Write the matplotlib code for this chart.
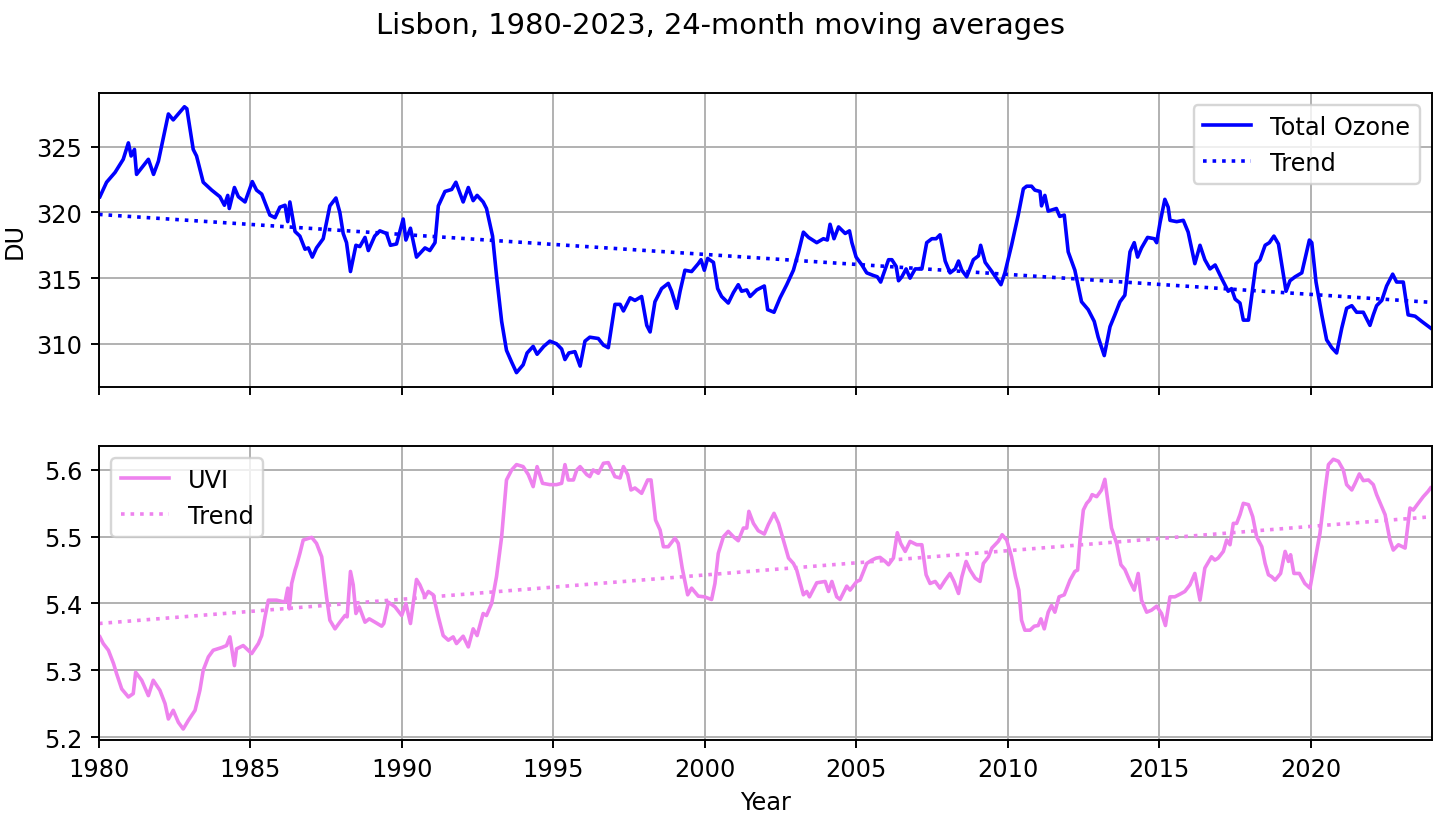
import matplotlib
matplotlib.use("Agg")
import matplotlib.pyplot as plt

# 24-month moving averages (decimal years)
oz_year = [1980.03, 1980.25, 1980.53, 1980.8, 1980.97, 1981.06, 1981.17, 1981.24, 1981.63, 1981.8,
           1981.96, 1982.18, 1982.29, 1982.45, 1982.82, 1982.9, 1983.11, 1983.22, 1983.44, 1983.72,
           1983.99, 1984.14, 1984.25, 1984.3, 1984.47, 1984.6, 1984.82, 1985.06, 1985.2, 1985.37,
           1985.64, 1985.81, 1985.97, 1986.14, 1986.23, 1986.3, 1986.47, 1986.63, 1986.8, 1986.91,
           1987.04, 1987.18, 1987.4, 1987.62, 1987.82, 1987.95, 1988.06, 1988.17, 1988.3, 1988.48,
           1988.61, 1988.78, 1988.89, 1989.1, 1989.27, 1989.49, 1989.62, 1989.82, 1990.04, 1990.13,
           1990.28, 1990.48, 1990.76, 1990.92, 1991.09, 1991.2, 1991.42, 1991.64, 1991.78, 1992.02,
           1992.19, 1992.35, 1992.48, 1992.68, 1992.79, 1992.99, 1993.12, 1993.29, 1993.45, 1993.62,
           1993.78, 1994.0, 1994.13, 1994.33, 1994.46, 1994.68, 1994.88, 1995.1, 1995.27, 1995.38,
           1995.51, 1995.71, 1995.88, 1996.04, 1996.2, 1996.48, 1996.65, 1996.81, 1997.03, 1997.2,
           1997.31, 1997.53, 1997.69, 1997.91, 1998.08, 1998.19, 1998.35, 1998.57, 1998.79, 1998.9,
           1999.07, 1999.18, 1999.34, 1999.56, 1999.78, 1999.87, 1999.98, 2000.09, 2000.28, 2000.42,
           2000.55, 2000.77, 2000.94, 2001.1, 2001.21, 2001.38, 2001.49, 2001.71, 2001.96, 2002.07,
           2002.28, 2002.48, 2002.7, 2002.92, 2003.09, 2003.25, 2003.42, 2003.69, 2003.91, 2004.04,
           2004.13, 2004.26, 2004.41, 2004.63, 2004.77, 2004.85, 2004.99, 2005.18, 2005.34, 2005.56,
           2005.69, 2005.8, 2006.06, 2006.17, 2006.31, 2006.39, 2006.5, 2006.64, 2006.77, 2006.94,
           2007.16, 2007.32, 2007.49, 2007.63, 2007.76, 2007.93, 2008.09, 2008.26, 2008.37, 2008.48,
           2008.64, 2008.86, 2009.03, 2009.1, 2009.25, 2009.47, 2009.62, 2009.77, 2009.9, 2010.12,
           2010.34, 2010.51, 2010.62, 2010.78, 2010.89, 2011.06, 2011.11, 2011.22, 2011.33, 2011.6,
           2011.71, 2011.86, 2011.99, 2012.21, 2012.43, 2012.65, 2012.85, 2012.98, 2013.18, 2013.37,
           2013.53, 2013.7, 2013.86, 2014.03, 2014.17, 2014.28, 2014.41, 2014.61, 2014.83, 2014.91,
           2015.02, 2015.18, 2015.29, 2015.35, 2015.57, 2015.79, 2015.95, 2016.17, 2016.34, 2016.5,
           2016.67, 2016.84, 2017.05, 2017.27, 2017.38, 2017.5, 2017.66, 2017.77, 2017.94, 2018.08,
           2018.19, 2018.32, 2018.49, 2018.63, 2018.78, 2018.93, 2019.07, 2019.18, 2019.31, 2019.48,
           2019.7, 2019.95, 2020.03, 2020.17, 2020.36, 2020.52, 2020.69, 2020.85, 2021.02, 2021.18,
           2021.35, 2021.51, 2021.73, 2021.95, 2022.06, 2022.17, 2022.34, 2022.5, 2022.7, 2022.83,
           2023.05, 2023.21, 2023.44, 2023.66, 2023.95]
oz_du = [321.2, 322.3, 323.05, 324.05, 325.3, 324.3, 324.8, 322.9, 324.05, 322.9,
         323.9, 326.3, 327.5, 327.05, 328.05, 327.9, 324.8, 324.3, 322.3, 321.7,
         321.2, 320.55, 321.3, 320.3, 321.9, 321.2, 320.8, 322.35, 321.7, 321.4,
         319.8, 319.6, 320.4, 320.55, 319.3, 320.8, 318.55, 318.2, 317.2, 317.3,
         316.6, 317.3, 318.0, 320.5, 321.1, 320.0, 318.4, 317.7, 315.5, 317.5,
         317.4, 318.1, 317.1, 318.2, 318.6, 318.4, 317.5, 317.6, 319.5, 317.9,
         318.8, 316.6, 317.3, 317.1, 317.7, 320.5, 321.6, 321.75, 322.3, 320.8,
         321.9, 320.9, 321.3, 320.8, 320.3, 318.2, 315.2, 311.7, 309.5, 308.6,
         307.8, 308.4, 309.3, 309.8, 309.2, 309.8, 310.2, 310.0, 309.6, 308.8,
         309.3, 309.4, 308.3, 310.2, 310.5, 310.4, 309.9, 309.7, 313.0, 313.0,
         312.5, 313.5, 313.3, 313.6, 311.4, 310.9, 313.2, 314.2, 314.6, 314.0,
         312.7, 314.0, 315.6, 315.5, 316.1, 316.4, 315.6, 316.5, 316.2, 314.2,
         313.6, 313.1, 313.9, 314.5, 314.0, 314.1, 313.6, 314.1, 314.4, 312.6,
         312.4, 313.5, 314.5, 315.6, 317.0, 318.5, 318.1, 317.7, 318.0, 317.9,
         319.1, 318.0, 318.9, 318.4, 318.6, 317.7, 316.6, 316.0, 315.4, 315.2,
         315.1, 314.7, 316.4, 316.4, 315.9, 314.8, 315.1, 315.7, 315.0, 315.7,
         315.7, 317.7, 318.0, 318.0, 318.3, 316.3, 315.4, 315.7, 316.3, 315.6,
         315.1, 316.4, 316.7, 317.5, 316.2, 315.5, 315.0, 314.5, 315.4, 317.5,
         319.8, 321.8, 322.0, 322.0, 321.7, 321.6, 320.5, 321.3, 320.1, 320.3,
         319.7, 319.8, 317.0, 315.6, 313.2, 312.6, 311.7, 310.5, 309.1, 311.3,
         312.2, 313.2, 313.7, 317.0, 317.7, 316.6, 317.3, 318.1, 318.0, 317.7,
         319.2, 321.0, 320.4, 319.4, 319.3, 319.4, 318.5, 316.1, 317.5, 316.4,
         315.7, 316.0, 315.0, 314.0, 314.2, 313.4, 313.1, 311.8, 311.8, 314.2,
         316.1, 316.4, 317.5, 317.7, 318.2, 317.6, 315.6, 314.0, 314.8, 315.1,
         315.4, 317.9, 317.7, 314.7, 312.2, 310.3, 309.7, 309.3, 311.2, 312.7,
         312.9, 312.4, 312.4, 311.4, 312.2, 312.9, 313.3, 314.4, 315.3, 314.7,
         314.7, 312.2, 312.1, 311.7, 311.2]

uvi_year = [1980.03, 1980.14, 1980.31, 1980.48, 1980.58, 1980.75, 1980.97, 1981.13, 1981.21, 1981.41,
            1981.63, 1981.79, 1982.01, 1982.18, 1982.29, 1982.45, 1982.62, 1982.78, 1982.95, 1983.17,
            1983.33, 1983.44, 1983.61, 1983.77, 1984.05, 1984.21, 1984.32, 1984.47, 1984.54, 1984.76,
            1985.04, 1985.26, 1985.37, 1985.48, 1985.59, 1985.86, 1986.14, 1986.23, 1986.28, 1986.36,
            1986.47, 1986.52, 1986.63, 1986.74, 1987.02, 1987.18, 1987.35, 1987.51, 1987.62, 1987.79,
            1987.95, 1988.12, 1988.19, 1988.3, 1988.39, 1988.48, 1988.59, 1988.78, 1988.92, 1989.11,
            1989.33, 1989.4, 1989.55, 1989.77, 1989.99, 1990.13, 1990.28, 1990.48, 1990.59, 1990.76,
            1990.87, 1991.03, 1991.2, 1991.36, 1991.53, 1991.69, 1991.8, 1992.02, 1992.19, 1992.35,
            1992.48, 1992.68, 1992.79, 1992.96, 1993.12, 1993.29, 1993.45, 1993.62, 1993.78, 1994.0,
            1994.17, 1994.33, 1994.46, 1994.64, 1994.88, 1995.1, 1995.27, 1995.38, 1995.49, 1995.66,
            1995.77, 1995.88, 1996.1, 1996.2, 1996.31, 1996.48, 1996.65, 1996.81, 1997.03, 1997.2,
            1997.31, 1997.45, 1997.56, 1997.69, 1997.91, 1998.11, 1998.22, 1998.37, 1998.52, 1998.63,
            1998.79, 1999.01, 1999.12, 1999.25, 1999.43, 1999.56, 1999.78, 1999.98, 2000.22, 2000.33,
            2000.44, 2000.61, 2000.77, 2000.94, 2001.1, 2001.27, 2001.38, 2001.45, 2001.6, 2001.76,
            2001.96, 2002.09, 2002.28, 2002.43, 2002.59, 2002.76, 2002.92, 2003.03, 2003.25, 2003.36,
            2003.45, 2003.69, 2003.97, 2004.08, 2004.19, 2004.35, 2004.46, 2004.68, 2004.79, 2005.01,
            2005.12, 2005.34, 2005.51, 2005.65, 2005.78, 2005.95, 2006.06, 2006.22, 2006.35, 2006.46,
            2006.61, 2006.77, 2006.99, 2007.16, 2007.3, 2007.43, 2007.6, 2007.76, 2007.93, 2008.09,
            2008.22, 2008.37, 2008.48, 2008.62, 2008.75, 2008.92, 2009.08, 2009.19, 2009.36, 2009.47,
            2009.68, 2009.81, 2009.96, 2010.12, 2010.25, 2010.36, 2010.45, 2010.56, 2010.73, 2010.87,
            2011.0, 2011.09, 2011.2, 2011.33, 2011.44, 2011.55, 2011.69, 2011.86, 2012.05, 2012.21,
            2012.3, 2012.38, 2012.49, 2012.6, 2012.7, 2012.78, 2012.93, 2013.09, 2013.2, 2013.31,
            2013.42, 2013.59, 2013.73, 2013.86, 2014.03, 2014.17, 2014.3, 2014.41, 2014.58, 2014.74,
            2014.91, 2015.07, 2015.2, 2015.35, 2015.51, 2015.68, 2015.84, 2016.01, 2016.17, 2016.34,
            2016.5, 2016.72, 2016.83, 2016.94, 2017.11, 2017.22, 2017.33, 2017.44, 2017.55, 2017.66,
            2017.77, 2017.94, 2018.08, 2018.21, 2018.38, 2018.49, 2018.6, 2018.71, 2018.82, 2019.0,
            2019.15, 2019.26, 2019.33, 2019.44, 2019.62, 2019.8, 2019.97, 2020.14, 2020.3, 2020.47,
            2020.58, 2020.74, 2020.91, 2021.07, 2021.18, 2021.35, 2021.46, 2021.6, 2021.73, 2021.9,
            2022.06, 2022.17, 2022.34, 2022.45, 2022.61, 2022.72, 2022.89, 2023.11, 2023.27, 2023.38,
            2023.51, 2023.71, 2023.87, 2023.95]
uvi_val = [5.35, 5.34, 5.33, 5.31, 5.295, 5.272, 5.26, 5.265, 5.297, 5.285,
           5.262, 5.285, 5.27, 5.25, 5.227, 5.24, 5.222, 5.212, 5.225, 5.24,
           5.27, 5.3, 5.32, 5.33, 5.334, 5.337, 5.35, 5.307, 5.332, 5.337,
           5.325, 5.34, 5.352, 5.38, 5.405, 5.405, 5.402, 5.423, 5.392, 5.43,
           5.45, 5.457, 5.475, 5.495, 5.499, 5.49, 5.47, 5.41, 5.375, 5.362,
           5.372, 5.382, 5.38, 5.448, 5.428, 5.385, 5.395, 5.372, 5.377, 5.372,
           5.366, 5.37, 5.402, 5.395, 5.382, 5.4, 5.37, 5.436, 5.428, 5.41,
           5.418, 5.413, 5.38, 5.352, 5.345, 5.35, 5.34, 5.351, 5.335, 5.362,
           5.352, 5.385, 5.382, 5.4, 5.44, 5.5, 5.585, 5.6, 5.608, 5.605,
           5.593, 5.575, 5.605, 5.58, 5.578, 5.578, 5.58, 5.608, 5.585, 5.585,
           5.6, 5.605, 5.593, 5.59, 5.6, 5.595, 5.61, 5.611, 5.59, 5.588,
           5.605, 5.593, 5.57, 5.573, 5.565, 5.585, 5.585, 5.525, 5.51, 5.485,
           5.485, 5.498, 5.49, 5.453, 5.413, 5.423, 5.411, 5.41, 5.406, 5.43,
           5.475, 5.5, 5.508, 5.5, 5.494, 5.513, 5.513, 5.538, 5.52, 5.509,
           5.504, 5.518, 5.535, 5.52, 5.495, 5.468, 5.46, 5.45, 5.413, 5.418,
           5.41, 5.431, 5.433, 5.418, 5.433, 5.41, 5.406, 5.426, 5.42, 5.433,
           5.435, 5.46, 5.465, 5.468, 5.469, 5.463, 5.458, 5.468, 5.506, 5.49,
           5.478, 5.493, 5.488, 5.488, 5.443, 5.43, 5.433, 5.423, 5.435, 5.445,
           5.433, 5.415, 5.44, 5.463, 5.45, 5.438, 5.433, 5.46, 5.47, 5.483,
           5.493, 5.503, 5.495, 5.47, 5.44, 5.42, 5.375, 5.36, 5.36, 5.366,
           5.367, 5.377, 5.362, 5.387, 5.397, 5.387, 5.41, 5.413, 5.435, 5.448,
           5.45, 5.495, 5.54, 5.55, 5.555, 5.563, 5.56, 5.57, 5.586, 5.55,
           5.513, 5.49, 5.458, 5.451, 5.433, 5.42, 5.445, 5.405, 5.387, 5.39,
           5.396, 5.385, 5.367, 5.41, 5.41, 5.414, 5.418, 5.428, 5.445, 5.405,
           5.453, 5.47, 5.465, 5.468, 5.478, 5.495, 5.488, 5.52, 5.52, 5.533,
           5.55, 5.548, 5.53, 5.5, 5.485, 5.46, 5.443, 5.44, 5.435, 5.445,
           5.478, 5.463, 5.473, 5.445, 5.445, 5.43, 5.423, 5.465, 5.505, 5.57,
           5.608, 5.616, 5.613, 5.6, 5.578, 5.57, 5.58, 5.594, 5.584, 5.585,
           5.578, 5.563, 5.545, 5.533, 5.495, 5.48, 5.488, 5.483, 5.543, 5.54,
           5.548, 5.56, 5.568, 5.573]

# linear trends (value at 1980 and 2024)
trend_years = [1980, 2024]
oz_trend = [319.85, 313.15]
uvi_trend = [5.37, 5.53]

dpi = 173
fig, (ax1, ax2) = plt.subplots(2, 1, sharex=True, figsize=(1441/dpi, 820/dpi), dpi=dpi)
fig.subplots_adjust(left=0.0687, right=0.9938, top=0.8854, bottom=0.0963, hspace=0.2)

ax1.plot(oz_year, oz_du, color="blue", lw=1.5, label="Total Ozone")
ax1.plot(trend_years, oz_trend, color="blue", lw=1.5, ls=":", label="Trend")
ax1.set_ylabel("DU")
ax1.set_ylim(306.7, 329.1)
ax1.grid(True)
ax1.legend(loc="upper right")

ax2.plot(uvi_year, uvi_val, color="violet", lw=1.5, label="UVI")
ax2.plot(trend_years, uvi_trend, color="violet", lw=1.5, ls=":", label="Trend")
ax2.set_ylim(5.1955, 5.636)
ax2.set_xlim(1980, 2024)
ax2.set_xlabel("Year")
ax2.grid(True)
ax2.legend(loc="upper left")

fig.suptitle("Lisbon, 1980-2023, 24-month moving averages", y=0.985)

plt.savefig("out.png", dpi=dpi)
